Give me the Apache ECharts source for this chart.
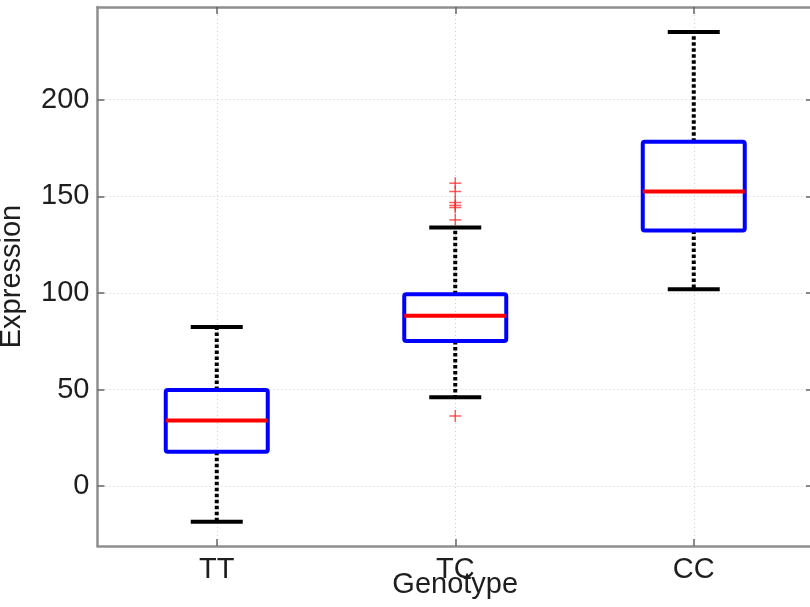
<!DOCTYPE html>
<html>
<head>
<meta charset="utf-8">
<title>Expression by genotype</title>
<script src="https://cdn.jsdelivr.net/npm/echarts@6/dist/echarts.min.js"></script>
<style>
    html, body { margin: 0; padding: 0; background: #fff; }
    #chart { width: 810px; height: 607px; }
</style>
</head>
<body>
<div id="chart"></div>
<script>
var categories = ['TT', 'TC', 'CC'];
var lowerWhisker = [-18.5, 46, 101.9];
var q1Values = [17.8, 75.1, 132.3];
var medianValues = [34, 88.2, 152.5];
var q3Values = [49.7, 99.3, 178.2];
var upperWhisker = [82.4, 133.8, 235];
// outliers: category index + value
var outlierCategory = [1, 1, 1, 1, 1, 1, 1];
var outlierValues = [36.3, 137.8, 144.2, 145.3, 146.8, 152.5, 156.8];
var yTicks = [0, 50, 100, 150, 200];
var xTicks = [1, 2, 3];

var fontName = '"Liberation Sans", Arial, sans-serif';

var boxData = categories.map(function (c, i) {
    return [i + 1, lowerWhisker[i], q1Values[i], medianValues[i], q3Values[i], upperWhisker[i]];
});
var outlierData = outlierValues.map(function (v, i) {
    return [outlierCategory[i] + 1, v];
});

var renderBox = function (params, api) {
    var x = api.value(0);
    var low = api.coord([x, api.value(1)]);
    var q1 = api.coord([x, api.value(2)]);
    var med = api.coord([x, api.value(3)]);
    var q3 = api.coord([x, api.value(4)]);
    var high = api.coord([x, api.value(5)]);
    var cx = low[0];
    var half = 51;
    var cap = 26;
    var dash = { stroke: '#000', lineWidth: 4, lineDash: [3.5, 2.5] };
    var solid = { stroke: '#000', lineWidth: 4 };
    return {
        type: 'group',
        children: [
            { type: 'line', shape: { x1: cx, y1: q3[1], x2: cx, y2: high[1] }, style: dash },
            { type: 'line', shape: { x1: cx, y1: q1[1], x2: cx, y2: low[1] }, style: dash },
            { type: 'line', shape: { x1: cx - cap, y1: high[1], x2: cx + cap, y2: high[1] }, style: solid },
            { type: 'line', shape: { x1: cx - cap, y1: low[1], x2: cx + cap, y2: low[1] }, style: solid },
            {
                type: 'rect',
                shape: { x: cx - half, y: q3[1], width: half * 2, height: q1[1] - q3[1], r: 2 },
                style: { fill: 'transparent', stroke: '#0000ff', lineWidth: 4, lineJoin: 'round' }
            },
            { type: 'line', shape: { x1: cx - half, y1: med[1], x2: cx + half, y2: med[1] }, style: { stroke: '#ff0000', lineWidth: 4 } }
        ]
    };
};

var renderPlus = function (params, api) {
    var p = api.coord([api.value(0), api.value(1)]);
    var s = 6;
    var st = { stroke: 'rgba(255,40,40,0.75)', lineWidth: 1.5 };
    return {
        type: 'group',
        children: [
            { type: 'line', shape: { x1: p[0] - s, y1: p[1], x2: p[0] + s, y2: p[1] }, style: st },
            { type: 'line', shape: { x1: p[0], y1: p[1] - s, x2: p[0], y2: p[1] + s }, style: st }
        ]
    };
};

var axisLine = { show: true, onZero: false, lineStyle: { color: '#8e8e8e', width: 2.5 } };
var tickStyle = { color: '#666', width: 1.5 };
var gridLine = { show: true, lineStyle: { color: '#cfcfcf', width: 1, type: [1, 3] } };
var labelStyle = { fontSize: 29, color: '#1e1e1e', fontFamily: fontName };

var chart = echarts.init(document.getElementById('chart'));
chart.setOption({
    animation: false,
    backgroundColor: '#fff',
    grid: { left: 97.5, top: 7, right: -3, bottom: 61, containLabel: false, outerBoundsMode: 'none' },
    xAxis: [{
        type: 'value',
        min: 0.5,
        max: 3.5,
        position: 'bottom',
        axisLine: axisLine,
        axisTick: { inside: true, length: 7, customValues: xTicks, lineStyle: tickStyle },
        axisLabel: {
            customValues: xTicks,
            margin: 9,
            fontSize: 29,
            color: '#1e1e1e',
            fontFamily: fontName,
            formatter: function (v) { return categories[Math.round(v) - 1]; }
        },
        splitLine: gridLine,
        name: 'Genotype',
        nameLocation: 'middle',
        nameGap: 24,
        nameMoveOverlap: false,
        nameTextStyle: labelStyle
    }, {
        type: 'value',
        min: 0.5,
        max: 3.5,
        position: 'top',
        axisLine: axisLine,
        axisTick: { inside: true, length: 7, customValues: xTicks, lineStyle: tickStyle },
        axisLabel: { show: false, customValues: xTicks },
        splitLine: { show: false }
    }],
    yAxis: [{
        type: 'value',
        min: -31,
        max: 248,
        position: 'left',
        axisLine: axisLine,
        axisTick: { show: true, inside: true, length: 7, customValues: yTicks, lineStyle: tickStyle },
        axisLabel: { customValues: yTicks, margin: 8, fontSize: 29, color: '#1e1e1e', fontFamily: fontName },
        splitLine: gridLine,
        name: 'Expression',
        nameLocation: 'middle',
        nameGap: 71,
        nameMoveOverlap: false,
        nameTextStyle: labelStyle
    }, {
        type: 'value',
        min: -31,
        max: 248,
        position: 'right',
        axisLine: axisLine,
        axisTick: { show: true, inside: true, length: 7, customValues: yTicks, lineStyle: tickStyle },
        axisLabel: { show: false, customValues: yTicks },
        splitLine: { show: false }
    }],
    series: [{
        type: 'custom',
        name: 'box',
        xAxisIndex: 0,
        yAxisIndex: 0,
        renderItem: renderBox,
        encode: { x: 0, y: [1, 2, 3, 4, 5] },
        data: boxData,
        z: 3
    }, {
        type: 'custom',
        name: 'outliers',
        xAxisIndex: 0,
        yAxisIndex: 0,
        renderItem: renderPlus,
        encode: { x: 0, y: 1 },
        data: outlierData,
        z: 4
    }]
});
</script>
</body>
</html>
